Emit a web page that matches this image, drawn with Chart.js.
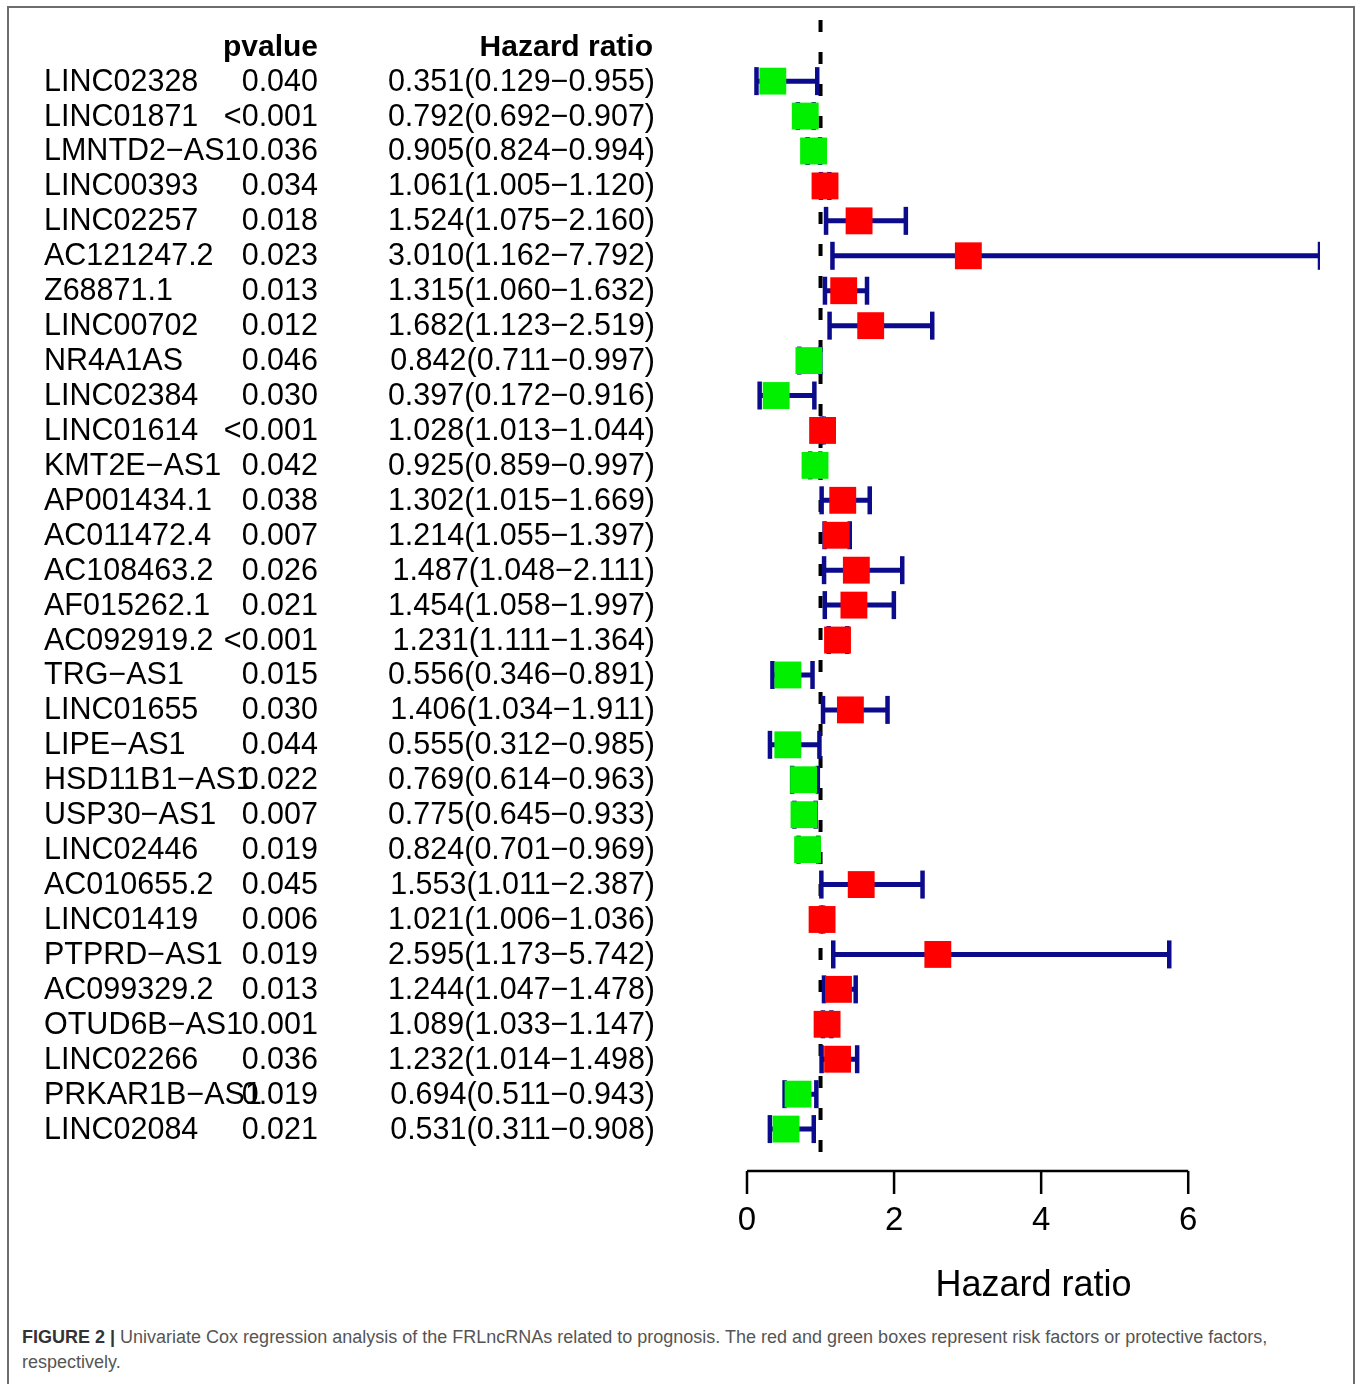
<!DOCTYPE html>
<html><head><meta charset="utf-8">
<script src="https://cdn.jsdelivr.net/npm/chart.js@4/dist/chart.umd.min.js"></script>
<style>
html,body{margin:0;padding:0;background:#fff;width:1357px;height:1384px;overflow:hidden;}
#frame{position:absolute;left:7px;top:6px;width:1344px;height:1400px;border:2px solid #6d6d6d;border-bottom:none;}
#c{position:absolute;left:0;top:0;}
#cap{position:absolute;left:22px;top:1325px;width:1320px;font-family:"Liberation Sans",Arial,sans-serif;font-size:18px;line-height:25px;color:#555;white-space:nowrap;}
#cap b{color:#333;}
</style></head><body>
<div id="frame"></div>
<canvas id="c" width="1357" height="1310"></canvas>
<div id="cap"><b>FIGURE 2 |</b> Univariate Cox regression analysis of the FRLncRNAs related to prognosis. The red and green boxes represent risk factors or protective factors,<br>respectively.</div>
<script>
const genes = ['LINC02328','LINC01871','LMNTD2\u2212AS1','LINC00393','LINC02257','AC121247.2','Z68871.1','LINC00702','NR4A1AS','LINC02384','LINC01614','KMT2E\u2212AS1','AP001434.1','AC011472.4','AC108463.2','AF015262.1','AC092919.2','TRG\u2212AS1','LINC01655','LIPE\u2212AS1','HSD11B1\u2212AS1','USP30\u2212AS1','LINC02446','AC010655.2','LINC01419','PTPRD\u2212AS1','AC099329.2','OTUD6B\u2212AS1','LINC02266','PRKAR1B\u2212AS1','LINC02084'];
const pvalues = ['0.040','<0.001','0.036','0.034','0.018','0.023','0.013','0.012','0.046','0.030','<0.001','0.042','0.038','0.007','0.026','0.021','<0.001','0.015','0.030','0.044','0.022','0.007','0.019','0.045','0.006','0.019','0.013','0.001','0.036','0.019','0.021'];
const hr = [0.351,0.792,0.905,1.061,1.524,3.010,1.315,1.682,0.842,0.397,1.028,0.925,1.302,1.214,1.487,1.454,1.231,0.556,1.406,0.555,0.769,0.775,0.824,1.553,1.021,2.595,1.244,1.089,1.232,0.694,0.531];
const low = [0.129,0.692,0.824,1.005,1.075,1.162,1.060,1.123,0.711,0.172,1.013,0.859,1.015,1.055,1.048,1.058,1.111,0.346,1.034,0.312,0.614,0.645,0.701,1.011,1.006,1.173,1.047,1.033,1.014,0.511,0.311];
const high = [0.955,0.907,0.994,1.120,2.160,7.792,1.632,2.519,0.997,0.916,1.044,0.997,1.669,1.397,2.111,1.997,1.364,0.891,1.911,0.985,0.963,0.933,0.969,2.387,1.036,5.742,1.478,1.147,1.498,0.943,0.908];
const xTicks = [0,2,4,6];
const headers = ['pvalue','Hazard ratio'];
const axisTitle = 'Hazard ratio';

const NAVY = '#0b0b8c';
const FONT = '"Liberation Sans", Arial, sans-serif';

const boxData = hr.map((v,i)=>({x:v,y:i}));
const boxColors = hr.map(v => v > 1 ? '#ff0000' : '#00f000');
const capData = [];
const ciData = [];
low.forEach((v,i)=>{
  capData.push({x:v,y:i},{x:high[i],y:i});
  ciData.push({x:v,y:i},{x:high[i],y:i},{x:null,y:null});
});

function txt(ctx, s, x, y, align, font, sx){
  ctx.save();
  ctx.font = font;
  ctx.textAlign = align;
  ctx.textBaseline = 'alphabetic';
  ctx.translate(x,y);
  ctx.scale(sx||1,1);
  ctx.fillText(s,0,0);
  ctx.restore();
}

const forest = {
  id:'forest',
  beforeDatasetsDraw(chart){
    const ctx = chart.ctx, xs = chart.scales.x, a = chart.chartArea;
    const x1 = xs.getPixelForValue(1);
    ctx.save();
    ctx.strokeStyle = '#000';
    ctx.lineWidth = 4;
    ctx.setLineDash([12,20]);
    ctx.beginPath();
    ctx.moveTo(x1, a.top);
    ctx.lineTo(x1, a.bottom);
    ctx.stroke();
    ctx.restore();
  },
  afterDatasetsDraw(chart){
    const ctx = chart.ctx, xs = chart.scales.x, ys = chart.scales.y, a = chart.chartArea;
    ctx.save();
    ctx.fillStyle = '#000';
    const f = '30.5px ' + FONT, fb = 'bold 30px ' + FONT;
    const hy = ys.getPixelForValue(-1) + 9.5;
    txt(ctx, headers[0], 318, hy, 'right', fb);
    txt(ctx, headers[1], 653, hy, 'right', fb);
    genes.forEach((g,i)=>{
      const y = ys.getPixelForValue(i) + 9.5;
      txt(ctx, g, 44, y, 'left', f);
      txt(ctx, pvalues[i], 318, y, 'right', f);
      const s = hr[i].toFixed(3) + '(' + low[i].toFixed(3) + '\u2212' + high[i].toFixed(3) + ')';
      txt(ctx, s, 655, y, 'right', f);
    });
    // axis
    const ay = a.bottom;
    ctx.strokeStyle = '#000';
    ctx.lineWidth = 2.5;
    ctx.beginPath();
    ctx.moveTo(xs.getPixelForValue(xTicks[0]), ay);
    ctx.lineTo(xs.getPixelForValue(xTicks[xTicks.length-1]), ay);
    xTicks.forEach(t=>{
      const px = xs.getPixelForValue(t);
      ctx.moveTo(px, ay);
      ctx.lineTo(px, ay + 23);
    });
    ctx.stroke();
    xTicks.forEach(t=>{
      txt(ctx, String(t), xs.getPixelForValue(t), 1230, 'center', '33px ' + FONT);
    });
    txt(ctx, axisTitle, (a.left + a.right)/2, 1296, 'center', '36px ' + FONT);
    ctx.restore();
  }
};

new Chart(document.getElementById('c'), {
  type:'scatter',
  data:{
    datasets:[
      {label:'HR', data:boxData, pointStyle:'rect', pointRadius:19, pointHoverRadius:19,
       backgroundColor:boxColors, borderWidth:0, pointBorderWidth:0, order:0},
      {label:'caps', data:capData, pointStyle:'line', pointRotation:90, pointRadius:14, pointHoverRadius:14,
       borderColor:NAVY, pointBorderColor:NAVY, pointBorderWidth:4.5, backgroundColor:NAVY, order:1},
      {label:'CI', data:ciData, showLine:true, spanGaps:false, pointRadius:0, borderColor:NAVY, borderWidth:5, order:2}
    ]
  },
  options:{
    responsive:false,
    animation:false,
    events:[],
    layout:{padding:{left:747, right:37, top:20, bottom:139}},
    plugins:{legend:{display:false}, tooltip:{enabled:false}},
    scales:{
      x:{type:'linear', min:0, max:Math.max(...high), display:false},
      y:{type:'linear', min:-1.75, max:genes.length - 1 + 1.2, reverse:true, display:false}
    }
  },
  plugins:[forest]
});
</script>
</body></html>
